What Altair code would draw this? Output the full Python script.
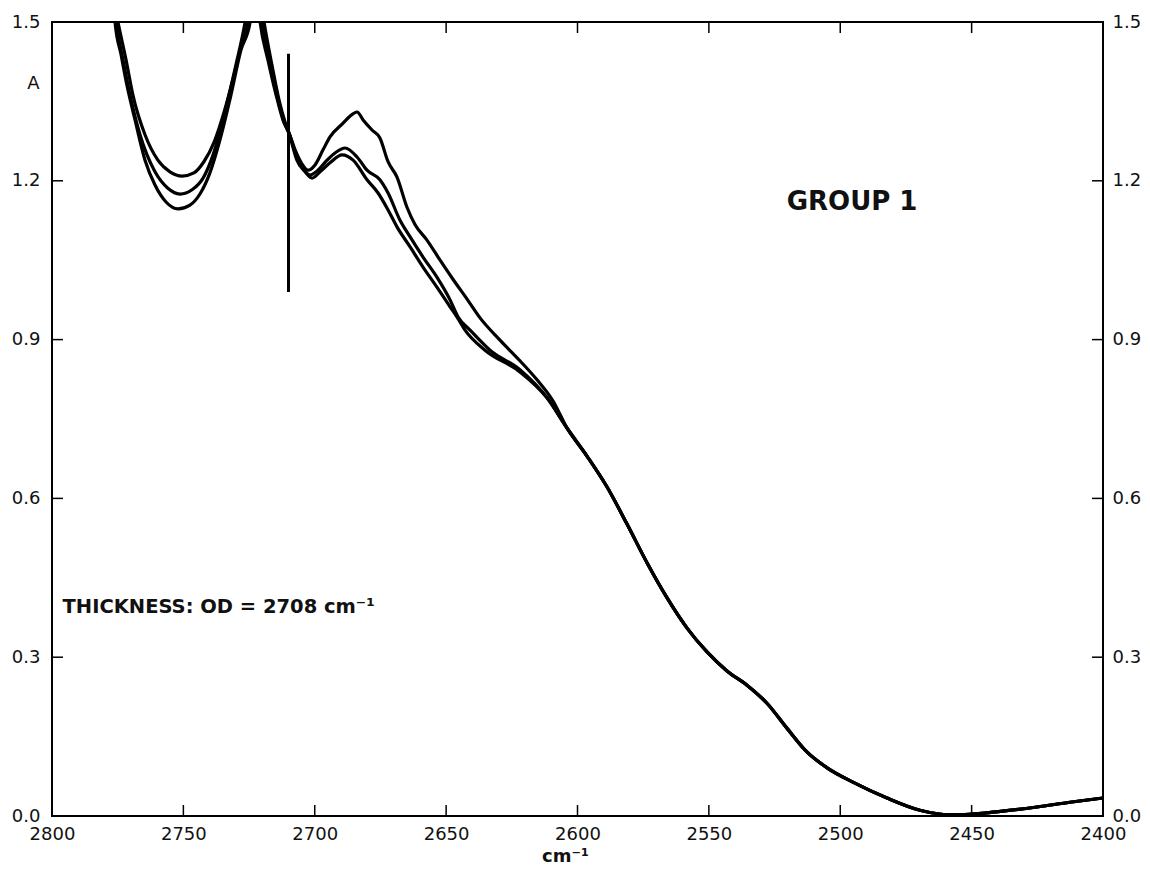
import altair as alt
import pandas as pd

# ---- Spectra (wavenumber in cm^-1, absorbance A) ----
wn_a = [2778.7, 2774.9, 2771.8, 2769.2, 2764.6, 2759.7, 2755.1, 2750.5, 2746.0, 2742.2,
        2738.3, 2734.5, 2730.7, 2727.7, 2725.4, 2723.1, 2720.8, 2717.8, 2714.7, 2712.1,
        2709.8, 2707.1, 2704.9, 2702.6, 2699.9, 2696.9, 2694.2, 2689.2, 2686.6, 2683.9,
        2681.6, 2678.2, 2675.2, 2672.1, 2668.7, 2664.9, 2661.8, 2657.3, 2652.3, 2647.4,
        2642.1, 2637.1, 2629.5, 2621.9, 2615.4, 2609.3]
ab_a = [1.598, 1.500, 1.428, 1.362, 1.287, 1.239, 1.217, 1.209, 1.215, 1.236,
        1.273, 1.330, 1.400, 1.462, 1.500, 1.617, 1.500, 1.428, 1.362, 1.315,
        1.290, 1.254, 1.232, 1.220, 1.230, 1.258, 1.283, 1.309, 1.322, 1.330,
        1.315, 1.296, 1.281, 1.236, 1.207, 1.150, 1.117, 1.088, 1.050, 1.014,
        0.977, 0.941, 0.899, 0.860, 0.824, 0.784]

wn_b = [2777.9, 2775.6, 2772.6, 2770.3, 2766.5, 2760.8, 2755.9, 2751.3, 2746.7, 2742.5,
        2738.7, 2734.2, 2730.0, 2726.5, 2723.1, 2720.1, 2717.0, 2714.0, 2711.7, 2709.8,
        2707.1, 2704.5, 2701.8, 2698.8, 2695.3, 2691.9, 2688.5, 2683.9, 2680.1, 2675.2,
        2672.1, 2667.6, 2663.7, 2658.8, 2653.5, 2648.5, 2645.5, 2640.9, 2633.3, 2621.9,
        2611.6]
ab_b = [1.598, 1.500, 1.419, 1.362, 1.287, 1.217, 1.186, 1.175, 1.183, 1.205,
        1.249, 1.330, 1.419, 1.500, 1.617, 1.500, 1.419, 1.353, 1.311, 1.290,
        1.249, 1.224, 1.211, 1.220, 1.239, 1.254, 1.262, 1.245, 1.220, 1.202,
        1.177, 1.126, 1.094, 1.056, 1.018, 0.975, 0.943, 0.918, 0.880, 0.843,
        0.790]

wn_c = [2777.2, 2776.0, 2773.7, 2771.5, 2768.4, 2764.6, 2760.8, 2756.6, 2752.0, 2747.5,
        2743.7, 2739.9, 2736.1, 2731.9, 2728.1, 2724.6, 2722.7, 2719.3, 2716.3, 2713.6,
        2711.3, 2709.8, 2706.8, 2703.7, 2701.0, 2698.0, 2694.2, 2689.6, 2685.4, 2680.1,
        2675.9, 2672.1, 2668.7, 2663.7, 2658.8, 2653.5, 2648.5, 2645.9, 2642.8, 2635.2,
        2621.9, 2611.6]
ab_c = [1.598, 1.500, 1.438, 1.381, 1.315, 1.239, 1.192, 1.160, 1.147, 1.154,
        1.175, 1.215, 1.277, 1.362, 1.447, 1.500, 1.617, 1.500, 1.419, 1.353,
        1.311, 1.290, 1.239, 1.217, 1.205, 1.217, 1.234, 1.249, 1.239, 1.202,
        1.177, 1.145, 1.113, 1.075, 1.037, 0.999, 0.962, 0.943, 0.918, 0.880,
        0.839, 0.790]

# shared part where the three spectra coincide
wn_tail = [2604.0, 2596.4, 2588.8, 2581.2, 2573.5, 2565.9, 2558.3, 2550.7, 2543.1, 2535.5,
           2527.9, 2520.3, 2512.7, 2505.0, 2495.2, 2482.2, 2469.7, 2457.1, 2444.2, 2425.1,
           2412.6, 2400.0]
ab_tail = [0.733, 0.680, 0.622, 0.552, 0.478, 0.412, 0.355, 0.310, 0.274, 0.247,
           0.213, 0.166, 0.121, 0.091, 0.064, 0.034, 0.011, 0.002, 0.006, 0.017,
           0.026, 0.034]

x_labels = [2800, 2750, 2700, 2650, 2600, 2550, 2500, 2450, 2400]
x_inner_ticks = [2750, 2700, 2650, 2600, 2550, 2500, 2450]
y_labels = [0.0, 0.3, 0.6, 0.9, 1.2, 1.5]
y_inner_ticks = [0.3, 0.6, 0.9, 1.2]

marker_wn = [2710]
marker_lo = [0.99]
marker_hi = [1.44]

rows = []
for name, w, a in [("s1", wn_a + wn_tail, ab_a + ab_tail),
                   ("s2", wn_b + wn_tail, ab_b + ab_tail),
                   ("s3", wn_c + wn_tail, ab_c + ab_tail)]:
    for xv, yv in zip(w, a):
        rows.append({"series": name, "wn": xv, "A": yv})
df = pd.DataFrame(rows)

W, H = 1051, 794
FONT = "DejaVu Sans"
INK = "#111"
x_scale = alt.Scale(domain=[2400, 2800], reverse=True, nice=False, zero=False)
y_scale = alt.Scale(domain=[0, 1.5], nice=False, zero=False)

lines = alt.Chart(df).mark_line(
    clip=True, color="black", strokeWidth=3.2, interpolate="monotone"
).encode(
    x=alt.X("wn:Q", scale=x_scale, axis=alt.Axis(
        values=x_labels, format="d", tickSize=0, domain=False, grid=False,
        labelFontSize=18, labelPadding=9, labelFlush=False, labelOverlap=False,
        labelColor=INK,
        title="cm\u207b\u00b9", titleFontSize=18, titleFontWeight="bold",
        titleX=513, titleY=40, titleAlign="center", titleBaseline="middle",
        titleColor=INK)),
    y=alt.Y("A:Q", scale=y_scale, axis=alt.Axis(
        orient="left", values=y_labels, format=".1f", tickSize=0, domain=False,
        grid=False, labelFontSize=18, labelPadding=12, labelColor=INK,
        labelOverlap=False,
        title="A", titleAngle=0, titleX=-19, titleY=61, titleFontSize=18,
        titleFontWeight="normal", titleAlign="center", titleBaseline="middle",
        titleColor=INK)),
    detail="series:N",
)

yt = pd.DataFrame({"v": y_inner_ticks})
right_ticks = alt.Chart(yt).mark_rule(color="black", strokeWidth=1.5).encode(
    y=alt.Y("v:Q", scale=y_scale, axis=alt.Axis(
        orient="right", values=y_labels, format=".1f", tickSize=0, domain=False,
        grid=False, labelFontSize=18, labelPadding=9, labelColor=INK,
        labelOverlap=False, title=None)),
    x=alt.value(W), x2=alt.value(W - 11),
)
left_ticks = alt.Chart(yt).mark_rule(color="black", strokeWidth=1.5).encode(
    y=alt.Y("v:Q", scale=y_scale, axis=None),
    x=alt.value(0), x2=alt.value(11),
)

xt = pd.DataFrame({"w": x_inner_ticks})
bottom_ticks = alt.Chart(xt).mark_rule(color="black", strokeWidth=1.5).encode(
    x=alt.X("w:Q", scale=x_scale, axis=None),
    y=alt.value(H), y2=alt.value(H - 11),
)
top_ticks = alt.Chart(xt).mark_rule(color="black", strokeWidth=1.5).encode(
    x=alt.X("w:Q", scale=x_scale, axis=None),
    y=alt.value(0), y2=alt.value(11),
)

mk = pd.DataFrame({"wn": marker_wn, "lo": marker_lo, "hi": marker_hi})
marker = alt.Chart(mk).mark_rule(color="black", strokeWidth=3).encode(
    x=alt.X("wn:Q", scale=x_scale, axis=None),
    y=alt.Y("lo:Q", scale=y_scale, axis=None),
    y2="hi:Q",
)

t1 = pd.DataFrame({"wn": [2796.0], "A": [0.395], "t": ["THICKNESS: OD = 2708 cm\u207b\u00b9"]})
thick = alt.Chart(t1).mark_text(
    align="left", baseline="middle", font=FONT, fontSize=19.5, fontWeight="bold", color=INK
).encode(
    x=alt.X("wn:Q", scale=x_scale, axis=None),
    y=alt.Y("A:Q", scale=y_scale, axis=None),
    text="t:N",
)

t2 = pd.DataFrame({"wn": [2495.5], "A": [1.16], "t": ["GROUP 1"]})
group = alt.Chart(t2).mark_text(
    align="center", baseline="middle", font=FONT, fontSize=26, fontWeight="bold", color=INK
).encode(
    x=alt.X("wn:Q", scale=x_scale, axis=None),
    y=alt.Y("A:Q", scale=y_scale, axis=None),
    text="t:N",
)

chart = alt.layer(
    lines, right_ticks, left_ticks, bottom_ticks, top_ticks, marker, thick, group
).resolve_axis(x="independent", y="independent").properties(
    width=W, height=H,
    autosize=alt.AutoSizeParams(type="none"),
    padding={"left": 44, "top": 14, "right": 38, "bottom": 50},
    background="white",
).configure(font=FONT).configure_view(stroke="black", strokeWidth=2)

chart.save("out.html", embed_options={"renderer": "svg", "actions": False})
